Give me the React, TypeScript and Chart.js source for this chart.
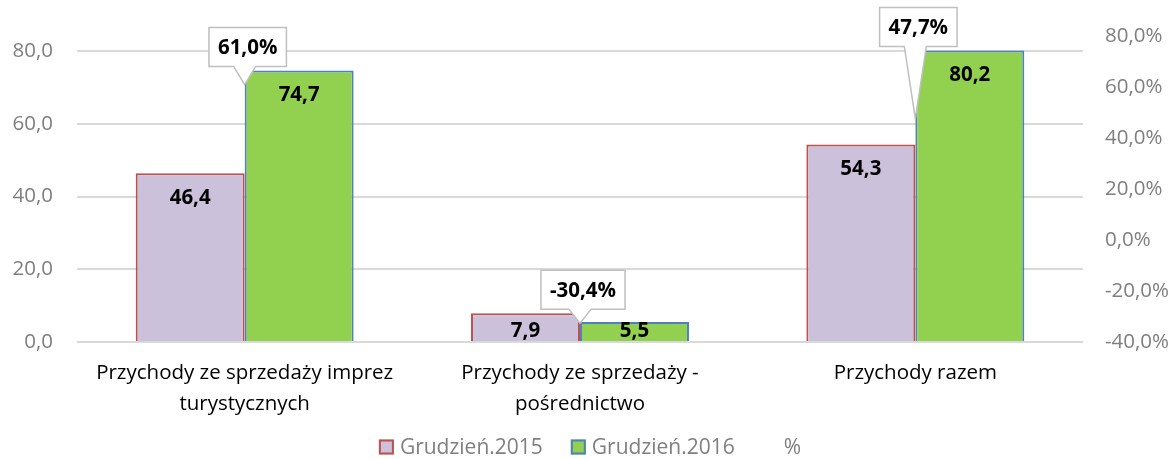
import React, { useEffect, useRef } from "react";
import { Chart, registerables } from "chart.js";

Chart.register(...registerables);

const categories: (string | string[])[] = [
  ["Przychody ze sprzedaży imprez", "turystycznych"],
  ["Przychody ze sprzedaży -", "pośrednictwo"],
  "Przychody razem",
];
const dec2015: number[] = [46.4, 7.9, 54.3];
const dec2016: number[] = [74.7, 5.5, 80.2];
const pctChange: number[] = [61.0, -30.4, 47.7];
const leftTicks: number[] = [0, 20, 40, 60, 80];
const seriesNames: string[] = ["Grudzień.2015", "Grudzień.2016", "%"];

const FONT = "'Open Sans'";
const fmt = (v: number) => v.toFixed(1).replace(".", ",");

const labelsPlugin = {
  id: "valueLabels",
  afterDatasetsDraw(chart: any) {
    const ctx = chart.ctx;
    ctx.save();
    ctx.font = `bold 20.5px ${FONT}`;
    ctx.fillStyle = "#000000";
    ctx.textAlign = "center";
    ctx.textBaseline = "middle";
    [0, 1].forEach((di) => {
      const meta = chart.getDatasetMeta(di);
      meta.data.forEach((bar: any, i: number) => {
        const v = chart.data.datasets[di].data[i] as number;
        const y = Math.min(bar.y + 25, bar.base - 10);
        ctx.fillText(fmt(v), bar.x, y);
      });
    });
    // callouts
    const lineMeta = chart.getDatasetMeta(2);
    const m0 = chart.getDatasetMeta(0);
    const m1 = chart.getDatasetMeta(1);
    lineMeta.data.forEach((pt: any, i: number) => {
      const v = chart.data.datasets[2].data[i] as number;
      const text = fmt(v) + "%";
      const tw = ctx.measureText(text).width;
      const bw = tw + 18;
      const bh = 39;
      const topBar = Math.min(m0.data[i].y, m1.data[i].y);
      const bottom = topBar - 4;
      const top = bottom - bh;
      const cx = pt.x + 3;
      const left = cx - bw / 2;
      const tipX = pt.x;
      const tipY = Math.max(pt.y, bottom + 14);
      ctx.beginPath();
      ctx.moveTo(left, top);
      ctx.lineTo(left + bw, top);
      ctx.lineTo(left + bw, bottom);
      ctx.lineTo(cx + 8, bottom);
      ctx.lineTo(tipX, tipY);
      ctx.lineTo(cx - 14, bottom);
      ctx.lineTo(left, bottom);
      ctx.closePath();
      ctx.fillStyle = "#FFFFFF";
      ctx.fill();
      ctx.strokeStyle = "#BFBFBF";
      ctx.lineWidth = 1.5;
      ctx.stroke();
      ctx.fillStyle = "#000000";
      ctx.fillText(text, cx, top + bh / 2 + 1);
    });
    ctx.restore();
  },
};

const legendPlugin = {
  id: "customLegend",
  afterDraw(chart: any) {
    const ctx = chart.ctx;
    ctx.save();
    ctx.font = `21px ${FONT}`;
    ctx.textBaseline = "middle";
    ctx.textAlign = "left";
    const box = 15;
    const gapText = 6;
    const gapItem = 28;
    const ds = chart.data.datasets;
    const widths = ds.map((d: any) => box + gapText + ctx.measureText(d.label).width);
    const total = widths.reduce((a: number, b: number) => a + b, 0) + gapItem * (ds.length - 1);
    let x = (chart.width - total) / 2 + 3;
    const y = chart.height - 12;
    ds.forEach((d: any, i: number) => {
      const bg = d.backgroundColor;
      const bc = d.borderColor;
      if (d.type !== "line") {
        ctx.fillStyle = bg;
        ctx.fillRect(x, y - box / 2, box, box);
        ctx.strokeStyle = bc;
        ctx.lineWidth = 2;
        ctx.strokeRect(x + 1, y - box / 2 + 1, box - 2, box - 2);
      }
      ctx.fillStyle = "#7F7F7F";
      ctx.fillText(d.label, x + box + gapText, y + 1);
      x += widths[i] + gapItem;
    });
    ctx.restore();
  },
};

export default function App() {
  const ref = useRef<HTMLCanvasElement>(null);
  useEffect(() => {
    document.body.style.margin = "0";
    const chart = new Chart(ref.current!, {
      type: "bar",
      data: {
        labels: categories as any,
        datasets: [
          {
            label: seriesNames[0],
            data: dec2015,
            backgroundColor: "#CCC1DA",
            borderColor: "#C0504D",
            borderWidth: 2,
            yAxisID: "y",
          },
          {
            label: seriesNames[1],
            data: dec2016,
            backgroundColor: "#92D050",
            borderColor: "#4F81BD",
            borderWidth: 2,
            yAxisID: "y",
          },
          {
            type: "line",
            label: seriesNames[2],
            data: pctChange,
            yAxisID: "y1",
            showLine: false,
            pointRadius: 0,
            backgroundColor: "rgba(0,0,0,0)",
            borderColor: "rgba(0,0,0,0)",
            borderWidth: 0,
          } as any,
        ],
      },
      options: {
        animation: false,
        responsive: false,
        layout: { padding: { left: 12, right: 4, top: 24, bottom: 31 } },
        datasets: { bar: { categoryPercentage: 0.65, barPercentage: 1 } },
        plugins: {
          legend: { display: false },
          tooltip: { enabled: false },
          title: { display: false },
        },
        scales: {
          x: {
            grid: { display: false },
            border: { display: false },
            ticks: {
              color: "#000000",
              font: { family: FONT, size: 20.5, lineHeight: 1.51 },
              padding: 8,
              maxRotation: 0,
              autoSkip: false,
            },
          },
          y: {
            position: "left",
            min: 0,
            max: 84.08,
            afterBuildTicks: (scale: any) => {
              scale.ticks = leftTicks.map((v) => ({ value: v }));
            },
            afterFit: (scale: any) => {
              scale.width = 65;
            },
            grid: { color: "#D9D9D9", lineWidth: 2, drawTicks: false },
            border: { display: false },
            ticks: {
              color: "#7F7F7F",
              font: { family: FONT, size: 20.5 },
              padding: 24,
              callback: (v: any) => fmt(Number(v)),
            },
          },
          y1: {
            position: "right",
            min: -40,
            max: 80,
            afterFit: (scale: any) => {
              scale.width = 87;
            },
            grid: { display: false, drawTicks: false },
            border: { display: false },
            ticks: {
              stepSize: 20,
              color: "#7F7F7F",
              font: { family: FONT, size: 20.5 },
              padding: 22,
              callback: (v: any) => fmt(Number(v)) + "%",
            },
          },
        },
      },
      plugins: [labelsPlugin, legendPlugin],
    });
    return () => chart.destroy();
  }, []);
  return <canvas ref={ref} width={1174} height={459} style={{ display: "block" }} />;
}
